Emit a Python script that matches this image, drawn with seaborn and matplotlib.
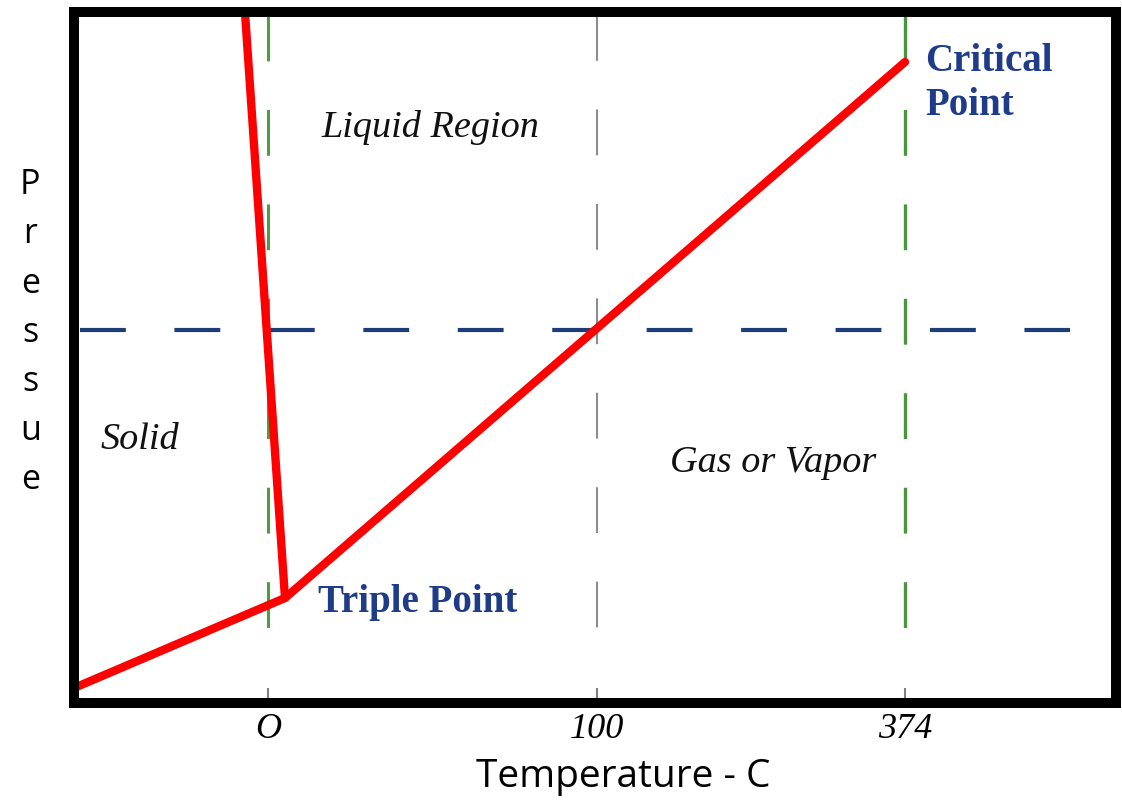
"""Schematic phase diagram of water (pressure vs temperature)."""
import pandas as pd
import matplotlib
matplotlib.use('Agg')
import matplotlib.pyplot as plt
import seaborn as sns

sns.set_style('white')
plt.rcParams['font.family'] = ['Liberation Serif', 'DejaVu Serif']
plt.rcParams['text.color'] = 'black'
plt.rcParams['axes.labelcolor'] = 'black'
plt.rcParams['xtick.labelcolor'] = 'black'

# schematic units, the drawing is not to scale
x_lim = (0, 1042)
y_lim = (0, 691)

temp_tick_pos = [194, 523, 831]
temp_tick_labels = ['O', '100', '374']
guide_colors = ['#4f9c43', '#8c8c8c', '#4a9440']
guide_widths = [2.2, 1.5, 2.4]
guide_span = [688, 63]          # top -> bottom of the dashed guides

# phase boundaries
seg_names = ['sublimation', 'sublimation', 'vaporization', 'vaporization', 'fusion', 'fusion']
seg_temp = [0, 211, 211, 831, 211, 170]
seg_pres = [15, 105, 105, 641, 105, 705]

# 1 atm reference line
atm_pres = 373
atm_span = [6, 996]

# region labels (baseline anchored)
region_names = ['Liquid Region', 'Solid', 'Gas or Vapor']
region_x = [430 - 74, 66, 773 - 74]
region_y = [566, 254, 231]

point_names = ['Triple Point', 'Critical\nPoint']
point_x = [244, 851]
point_y = [91, 588]

df = pd.DataFrame({'segment': seg_names, 'temp': seg_temp, 'pressure': seg_pres})

fig = plt.figure(figsize=(11.22, 8), dpi=100)
ax = fig.add_axes([74 / 1122, 97 / 800, 1042 / 1122, 691 / 800])

DASH_ON, DASH_OFF = 33.0, 35.0  # points

for xp, c, lw in zip(temp_tick_pos, guide_colors, guide_widths):
    ax.plot([xp, xp], guide_span, color=c, linewidth=lw,
            linestyle=(0, (DASH_ON / lw, DASH_OFF / lw)), zorder=1)

lw_atm = 3.0
ax.plot(atm_span, [atm_pres, atm_pres], color='#1d3d78', linewidth=lw_atm,
        linestyle=(0, (DASH_ON / lw_atm, DASH_OFF / lw_atm)), zorder=1.5)

sns.lineplot(data=df, x='temp', y='pressure', units='segment', estimator=None,
             sort=False, color='#ff0000', linewidth=6, ax=ax,
             solid_capstyle='round', zorder=2)

for name, xx, yy in zip(region_names, region_x, region_y):
    ax.text(xx, yy, name, ha='center', va='baseline', fontsize=27.5,
            fontstyle='italic', color='#111111')

for name, xx, yy in zip(point_names, point_x, point_y):
    ax.text(xx, yy, name, ha='left', va='baseline', fontsize=28,
            fontweight='bold', color='#1f3c88', linespacing=1.25)

ax.set_xlim(*x_lim)
ax.set_ylim(*y_lim)
ax.set_xticks(temp_tick_pos)
ax.set_xticklabels(temp_tick_labels, fontstyle='italic')
ax.set_yticks([])
ax.tick_params(axis='x', direction='in', length=11, width=1.5, color='#808080',
               pad=7, labelsize=26, bottom=True)

for sp in ax.spines.values():
    sp.set_visible(True)
    sp.set_color('black')
    sp.set_linewidth(7.2)

ax.set_xlabel('Temperature - C', fontfamily='Open Sans', fontsize=28)
ax.xaxis.set_label_coords(0.527, -0.1216)
ax.xaxis.label.set_va('baseline')

ax.set_ylabel('\n'.join('Pressue'), rotation=0, fontfamily='Open Sans',
              fontsize=24.5, linespacing=1.58, ha='center', va='center')
ax.yaxis.set_label_coords(-0.042, 0.536)

fig.savefig('out.png', dpi=100)
